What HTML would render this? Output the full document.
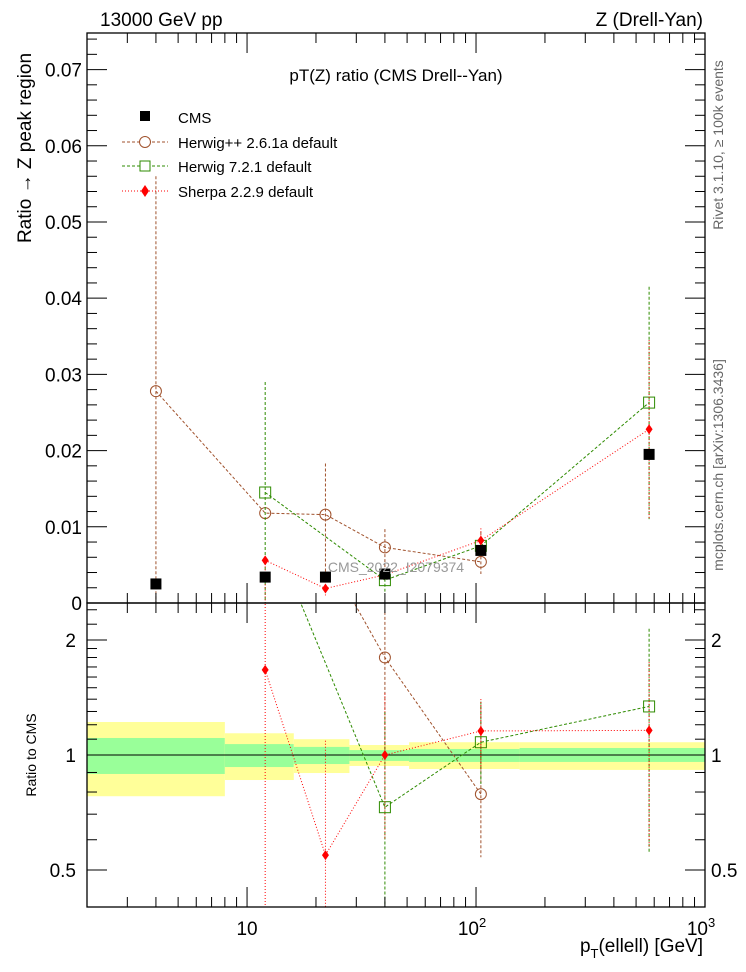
<!DOCTYPE html>
<html><head><meta charset="utf-8"><style>
html,body{margin:0;background:#fff;overflow:hidden;width:746px;height:972px}
svg{display:block;font-family:"Liberation Sans",sans-serif}
</style></head><body>
<svg id="c" width="746" height="972" xmlns="http://www.w3.org/2000/svg">
<g id="bands"></g><g id="marks"></g><g id="axes"></g>
<rect x="87" y="33" width="618" height="570" fill="none" stroke="#000" stroke-width="1.3"/>
<rect x="87" y="603" width="618" height="304" fill="none" stroke="#000" stroke-width="1.3"/>
<text x="100" y="26" font-size="19">13000 GeV pp</text>
<text x="703" y="26" font-size="19" text-anchor="end">Z (Drell-Yan)</text>
<text x="396" y="81" font-size="17" text-anchor="middle">pT(Z) ratio (CMS Drell--Yan)</text>
<text transform="translate(31,148) rotate(-90)" font-size="19" text-anchor="middle">Ratio → Z peak region</text>
<text transform="translate(36,755) rotate(-90)" font-size="14" text-anchor="middle">Ratio to CMS</text>
<text transform="translate(723,145) rotate(-90)" font-size="14" fill="#666" text-anchor="middle">Rivet 3.1.10, ≥ 100k events</text>
<text transform="translate(723,465) rotate(-90)" font-size="14" fill="#666" text-anchor="middle">mcplots.cern.ch [arXiv:1306.3436]</text>
<text x="396" y="572" font-size="14" fill="#999" text-anchor="middle">CMS_2022_I2079374</text>
<text x="703" y="952" font-size="19" text-anchor="end">p<tspan font-size="13" dy="6">T</tspan><tspan dy="-6">(ellell) [GeV]</tspan></text>
<g id="legend">
<rect x="140" y="111" width="10" height="10" fill="#000"/>
<text x="178" y="123" font-size="15">CMS</text>
<line x1="122" y1="142" x2="168" y2="142" stroke="#a0522d" stroke-dasharray="3,2"/>
<circle cx="145" cy="142" r="5.5" fill="#fff" stroke="#a0522d"/>
<text x="178" y="148" font-size="15">Herwig++ 2.6.1a default</text>
<line x1="122" y1="166" x2="168" y2="166" stroke="#2e8b00" stroke-dasharray="3,2"/>
<rect x="140" y="161" width="10" height="10" fill="#fff" stroke="#2e8b00"/>
<text x="178" y="172" font-size="15">Herwig 7.2.1 default</text>
<line x1="122" y1="191" x2="168" y2="191" stroke="#f00" stroke-dasharray="1,2"/>
<path d="M145,185 L149,191 L145,197 L141,191Z" fill="#f00"/>
<text x="178" y="197" font-size="15">Sherpa 2.2.9 default</text>
</g>
</svg>
<script>
const xs=[4,12,22,40,105,570];
const cmsVals=[0.0025,0.0034,0.0034,0.0038,0.0069,0.0195];
const hppX=[4,12,22,40,105];
const hppVals=[0.0278,0.0118,0.0116,0.0073,0.0054];
const hppUp=[0.056,0.0118,0.0183,0.0097,0.0094];
const hppDn=[0,0.0118,0.0037,0.004,0.0038];
const hw7X=[12,40,105,570];
const hw7Vals=[0.0145,0.003,0.0075,0.0263];
const hw7Up=[0.029,0.0045,0.0085,0.0415];
const hw7Dn=[0,0.0015,0.0065,0.011];
const shX=[12,22,40,105,570];
const shVals=[0.0056,0.0019,0.0037,0.0082,0.0228];
const shUp=[0.0056,0.0019,0.0045,0.0098,0.0345];
const shDn=[-0.01,0.0010,0.003,0.0065,0.011];
const rHppX=[22,40,105];const rHppVals=[3.4,1.80,0.79];const rHppUp=[3.4,2.37,1.35];const rHppDn=[3.4,1.0,0.54];
const rHw7X=[12,40,105,570];const rHw7Vals=[4.2,0.73,1.08,1.34];const rHw7Up=[4.2,1.3,1.38,2.14];const rHw7Dn=[4.2,0.2,0.84,0.557];
const rShX=[12,22,40,105,570];const rShVals=[1.67,0.547,1.0,1.156,1.16];const rShUp=[3,1.09,1.45,1.40,1.75];const rShDn=[0.2,0.2,0.6,0.92,0.57];
const binEdges=[2,8,16,28,51,155,1000];
const bandYellowUp=[1.22,1.14,1.10,1.062,1.08,1.08];
const bandYellowDn=[0.78,0.86,0.897,0.936,0.919,0.914];
const bandGreenUp=[1.108,1.068,1.05,1.03,1.037,1.043];
const bandGreenDn=[0.892,0.93,0.947,0.965,0.959,0.959];
const yTicks=[0,0.01,0.02,0.03,0.04,0.05,0.06,0.07];
const yTickLabels=["0","0.01","0.02","0.03","0.04","0.05","0.06","0.07"];
const rTicks=[0.5,1,2];const rTickLabels=["0.5","1","2"];

const NS="http://www.w3.org/2000/svg";
const X0=87,X1=705,lx0=Math.log10(2),lx1=3;
const sx=v=>X0+(Math.log10(v)-lx0)/(lx1-lx0)*(X1-X0);
const sy=v=>603-v/0.0748*570;
const sr=v=>755-Math.log10(v)*382;
function mk(tag,at,par){const e=document.createElementNS(NS,tag);for(const k in at)e.setAttribute(k,at[k]);document.getElementById(par).appendChild(e);return e;}
for(let i=0;i<binEdges.length-1;i++){
 let e=mk('rect',{x:sx(binEdges[i]),y:sr(bandYellowUp[i]),width:sx(binEdges[i+1])-sx(binEdges[i]),height:sr(bandYellowDn[i])-sr(bandYellowUp[i]),fill:'#ffff99'},'bands');
 
 
 e=mk('rect',{x:sx(binEdges[i]),y:sr(bandGreenUp[i]),width:sx(binEdges[i+1])-sx(binEdges[i]),height:sr(bandGreenDn[i])-sr(bandGreenUp[i]),fill:'#99ff99'},'bands');
 
 
}
let rl=mk('line',{x1:X0,x2:X1,y1:sr(1),y2:sr(1),stroke:'#000'},'bands');


function series(X,V,U,D,sy_,col,dash,marker,name,top,drawLine){
 const clipId=top?'ct':'cr';
 const yMin=top?33:603,yMax=top?603:907;
 const cl=y=>Math.max(yMin-20,Math.min(yMax+5,y));
 const g=mk('g',{'clip-path':'url(#'+clipId+')'},'marks');
 
 
 if(drawLine){
 let pts=X.map((x,i)=>sx(x)+','+sy_(V[i])).join(' ');
 const pl=document.createElementNS(NS,'polyline');pl.setAttribute('points',pts);pl.setAttribute('fill','none');pl.setAttribute('stroke',col);pl.setAttribute('stroke-dasharray',dash);g.appendChild(pl);
 
 
 }
 X.forEach((x,i)=>{
  const px=sx(x),py=sy_(V[i]);
  if(U){const el=document.createElementNS(NS,'line');
  const yu=cl(sy_(Math.max(U[i],1e-9))),yd=D[i]<=0?yMax:cl(sy_(D[i]));
  el.setAttribute('x1',px);el.setAttribute('x2',px);el.setAttribute('y1',yu);el.setAttribute('y2',yd);el.setAttribute('stroke',col);el.setAttribute('stroke-dasharray',dash);g.appendChild(el);
  
  }
  let m;
  if(marker==='circle'){m=document.createElementNS(NS,'circle');m.setAttribute('cx',px);m.setAttribute('cy',py);m.setAttribute('r',5.5);m.setAttribute('fill','none');m.setAttribute('stroke',col);}
  else if(marker==='square'){m=document.createElementNS(NS,'rect');m.setAttribute('x',px-5.5);m.setAttribute('y',py-5.5);m.setAttribute('width',11);m.setAttribute('height',11);m.setAttribute('fill','none');m.setAttribute('stroke',col);}
  else if(marker==='diamond'){m=document.createElementNS(NS,'path');m.setAttribute('d',`M${px},${py-5}L${px+3.5},${py}L${px},${py+5}L${px-3.5},${py}Z`);m.setAttribute('fill',col);}
  else {m=document.createElementNS(NS,'rect');m.setAttribute('x',px-5.5);m.setAttribute('y',py-5.5);m.setAttribute('width',11);m.setAttribute('height',11);m.setAttribute('fill',col);}
  g.appendChild(m);
  
  
 });
}
const defs=mk('defs',{},'marks');
const c1=document.createElementNS(NS,'clipPath');c1.id='ct';c1.innerHTML='<rect x="87" y="33" width="618" height="570"/>';defs.appendChild(c1);
const c2=document.createElementNS(NS,'clipPath');c2.id='cr';c2.innerHTML='<rect x="87" y="603" width="618" height="304"/>';defs.appendChild(c2);
series(hppX,hppVals,hppUp,hppDn,sy,'#a0522d','3,2','circle','herwigpp-series',true,true);
series(hw7X,hw7Vals,hw7Up,hw7Dn,sy,'#2e8b00','3,2','square','herwig7-series',true,true);
series(shX,shVals,shUp,shDn,sy,'#f00','1,2','diamond','sherpa-series',true,true);
series(xs,cmsVals,null,null,sy,'#000','','filled','cms-series',true,false);
series(rHppX,rHppVals,rHppUp,rHppDn,sr,'#a0522d','3,2','circle','ratio-herwigpp-series',false,true);
series(rHw7X,rHw7Vals,rHw7Up,rHw7Dn,sr,'#2e8b00','3,2','square','ratio-herwig7-series',false,true);
series(rShX,rShVals,rShUp,rShDn,sr,'#f00','1,2','diamond','ratio-sherpa-series',false,true);
function tick(x1,y1,x2,y2,nm){const t=mk('line',{x1,y1,x2,y2,stroke:'#000'},'axes');}
function label(x,y,s,anc,fs,nm){const t=mk('text',{x,y,'font-size':fs,'text-anchor':anc},'axes');t.textContent=s;}
yTicks.forEach((v,i)=>{const y=sy(v);tick(X0,y,X0+20,y,'y-tick');tick(X1,y,X1-20,y,'y-tick');label(82,y+7,yTickLabels[i],'end',19,'y-tick-label');});
for(let v=0.002;v<0.075;v+=0.002){if(Math.abs(v*100-Math.round(v*100))<1e-6)continue;const y=sy(v);tick(X0,y,X0+10,y,'y-minor-tick');tick(X1,y,X1-10,y,'y-minor-tick');}
rTicks.forEach((v,i)=>{const y=sr(v);tick(X0,y,X0+20,y,'ratio-tick');tick(X1,y,X1-20,y,'ratio-tick');label(76,y+7,rTickLabels[i],'end',19,'ratio-tick-label');label(711,y+7,rTickLabels[i],'start',19,'ratio-tick-label-right');});
[0.4,0.6,0.7,0.8,0.9,1.1,1.2,1.3,1.4,1.5,1.6,1.7,1.8,1.9,2.2,2.4].forEach(v=>{const y=sr(v);if(y<603||y>907)return;tick(X0,y,X0+10,y,'ratio-minor-tick');tick(X1,y,X1-10,y,'ratio-minor-tick');});
for(let d=1;d<=1000;d*=10){for(let k=1;k<10;k++){const v=d*k;if(v<2||v>1000)continue;const x=sx(v);const L=k===1?20:10;
 tick(x,603,x,603-L,'x-tick');tick(x,33,x,33+L,'x-tick');tick(x,907,x,907-L,'x-tick');tick(x,603,x,603+L,'x-tick');}}
label(sx(10),935,'10','middle',19,'x-tick-label');
const t2=mk('text',{x:sx(100)-4,y:935,'font-size':19,'text-anchor':'middle'},'axes');t2.innerHTML='10<tspan font-size="13" dy="-8">2</tspan>';


const t3=mk('text',{x:sx(1000)-4,y:935,'font-size':19,'text-anchor':'middle'},'axes');t3.innerHTML='10<tspan font-size="13" dy="-8">3</tspan>';


</script>
</body></html>
